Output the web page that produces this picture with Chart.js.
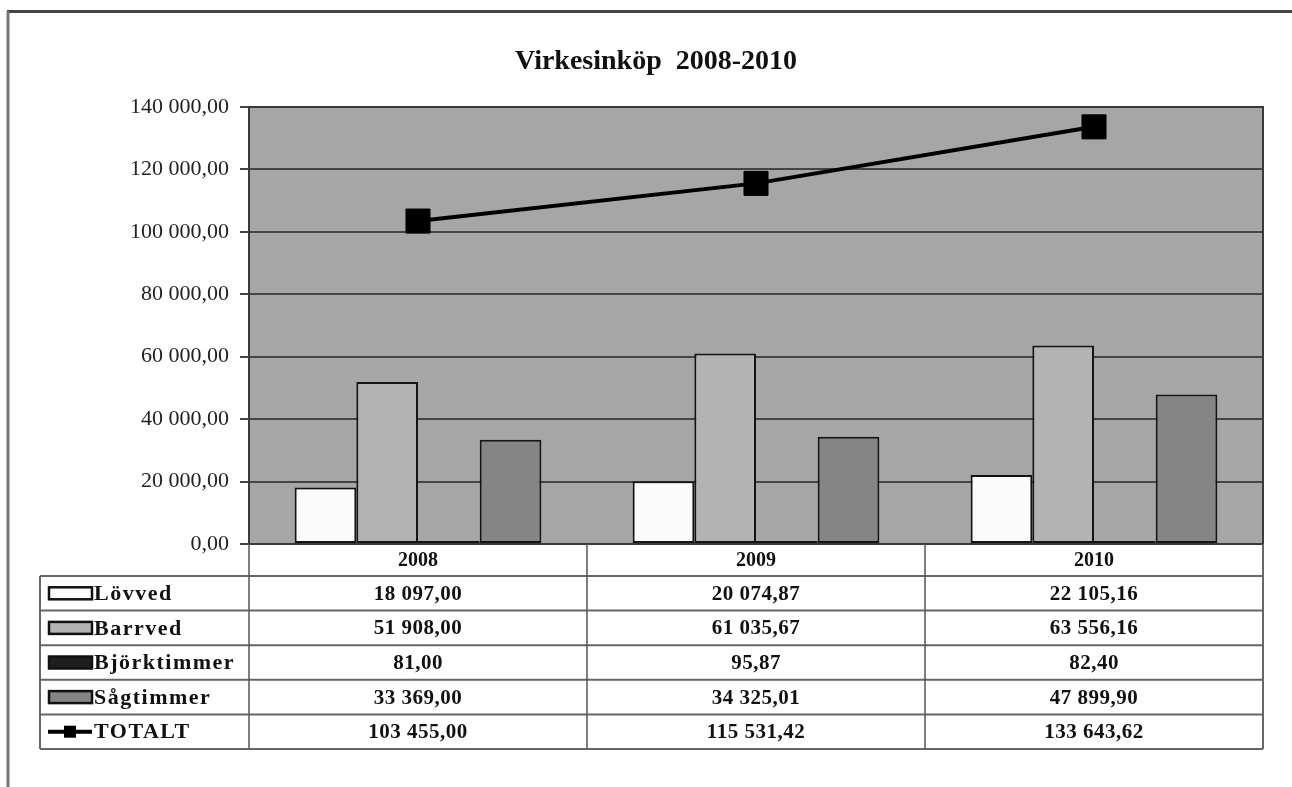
<!DOCTYPE html>
<html>
<head>
<meta charset="utf-8">
<script src="https://cdn.jsdelivr.net/npm/chart.js@4/dist/chart.umd.min.js"></script>
<style>
    html, body { margin: 0; padding: 0; background: #fff; }
    #wrap { width: 1292px; height: 787px; }
</style>
</head>
<body>
<div id="wrap"><canvas id="chart-virkesinkop"></canvas></div>
<script>
const years = ['2008', '2009', '2010'];
const lovved = [18097.00, 20074.87, 22105.16];
const barrved = [51908.00, 61035.67, 63556.16];
const bjorktimmer = [81.00, 95.87, 82.40];
const sagtimmer = [33369.00, 34325.01, 47899.90];
const totalt = [103455.00, 115531.42, 133643.62];

const chartTitle = 'Virkesinköp  2008-2010';
const seriesNames = ['Lövved', 'Barrved', 'Björktimmer', 'Sågtimmer', 'TOTALT'];
const seriesColors = ['#fbfbfb', '#b3b3b3', '#1e1e1e', '#858585', '#000000'];

const serif = '"Liberation Serif", "Times New Roman", serif';

function formatSv(value) {
    let parts = value.toFixed(2).split('.');
    parts[0] = parts[0].replace(/\B(?=(\d{3})+(?!\d))/g, ' ');
    return parts[0] + ',' + parts[1];
}

// grey plot background, title and the outer frame
const plotBackground = {
    id: 'plotBackground',
    beforeDraw(chart) {
        let ctx = chart.ctx;
        let a = chart.chartArea;
        ctx.save();
        ctx.fillStyle = '#a6a6a6';
        ctx.fillRect(a.left, a.top, a.right - a.left, a.bottom - a.top);

        ctx.strokeStyle = '#444';
        ctx.lineWidth = 3;
        ctx.beginPath();
        ctx.moveTo(7, 11.5);
        ctx.lineTo(1292, 11.5);
        ctx.stroke();
        ctx.strokeStyle = '#777';
        ctx.beginPath();
        ctx.moveTo(8, 11);
        ctx.lineTo(8, 787);
        ctx.stroke();

        ctx.fillStyle = '#111';
        ctx.font = 'bold 28px ' + serif;
        ctx.textAlign = 'center';
        ctx.textBaseline = 'middle';
        ctx.fillText(chartTitle, 656, 62);
        ctx.restore();
    },
};

// data table under the plot, legend keys included
const dataTable = {
    id: 'dataTable',
    afterDraw(chart) {
        let ctx = chart.ctx;
        let a = chart.chartArea;
        let x = chart.scales.x;
        let tableLeft = 40;
        let headerBottom = a.bottom + 32;
        let tableBottom = 749;
        let rowH = (tableBottom - headerBottom) / seriesNames.length;
        let colW = (a.right - a.left) / years.length;
        let rows = [lovved, barrved, bjorktimmer, sagtimmer, totalt];

        ctx.save();

        // plot frame
        ctx.strokeStyle = '#3a3a3a';
        ctx.lineWidth = 2;
        ctx.strokeRect(a.left, a.top, a.right - a.left, a.bottom - a.top);

        // table lines
        ctx.strokeStyle = '#666';
        ctx.lineWidth = 2;
        ctx.beginPath();
        for (let i = 0; i <= seriesNames.length; i++) {
            let y = headerBottom + i * rowH;
            ctx.moveTo(tableLeft, y);
            ctx.lineTo(a.right, y);
        }
        ctx.moveTo(tableLeft, headerBottom);
        ctx.lineTo(tableLeft, tableBottom);
        ctx.moveTo(a.right, a.bottom);
        ctx.lineTo(a.right, tableBottom);
        ctx.stroke();

        ctx.strokeStyle = '#555';
        ctx.lineWidth = 1.5;
        ctx.beginPath();
        for (let j = 0; j < years.length; j++) {
            let cx = a.left + j * colW;
            ctx.moveTo(cx, a.bottom);
            ctx.lineTo(cx, tableBottom);
        }
        ctx.stroke();

        ctx.fillStyle = '#111';
        ctx.textAlign = 'center';
        ctx.textBaseline = 'middle';
        ctx.font = 'bold 20px ' + serif;
        years.forEach((year, j) => {
            ctx.fillText(year, x.getPixelForValue(j), a.bottom + 17);
        });

        ctx.font = 'bold 21px ' + serif;
        ctx.letterSpacing = '0.5px';
        rows.forEach((values, i) => {
            let cy = headerBottom + i * rowH + rowH / 2;
            values.forEach((v, j) => {
                ctx.fillText(formatSv(v), x.getPixelForValue(j), cy + 1);
            });
        });

        // legend keys and names
        ctx.textAlign = 'left';
        ctx.font = 'bold 22px ' + serif;
        ctx.letterSpacing = '1.5px';
        seriesNames.forEach((name, i) => {
            let cy = headerBottom + i * rowH + rowH / 2;
            if (name === 'TOTALT') {
                ctx.strokeStyle = '#000';
                ctx.lineWidth = 4;
                ctx.beginPath();
                ctx.moveTo(48, cy);
                ctx.lineTo(92, cy);
                ctx.stroke();
                ctx.fillStyle = '#000';
                ctx.fillRect(64, cy - 6, 12, 12);
            } else {
                ctx.fillStyle = seriesColors[i];
                ctx.fillRect(49, cy - 6, 43, 12);
                ctx.strokeStyle = '#111';
                ctx.lineWidth = 2.5;
                ctx.strokeRect(49, cy - 6, 43, 12);
            }
            ctx.fillStyle = '#111';
            ctx.fillText(name, 94, cy + 1);
        });

        ctx.restore();
    },
};

function barDataset(index, values) {
    return {
        type: 'bar',
        label: seriesNames[index],
        data: values,
        backgroundColor: seriesColors[index],
        borderColor: '#141414',
        borderWidth: 2,
        borderSkipped: false,
        barPercentage: 1,
        categoryPercentage: 0.73,
        minBarLength: 3,
        order: 1,
    };
}

new Chart(document.getElementById('chart-virkesinkop'), {
    data: {
        labels: years,
        datasets: [
            barDataset(0, lovved),
            barDataset(1, barrved),
            barDataset(2, bjorktimmer),
            barDataset(3, sagtimmer),
            {
                type: 'line',
                label: seriesNames[4],
                data: totalt,
                borderColor: '#000',
                borderWidth: 4,
                pointStyle: 'rect',
                pointRadius: 17,
                pointBackgroundColor: '#000',
                pointBorderColor: '#000',
                pointBorderWidth: 1,
                tension: 0,
                order: 0,
            },
        ],
    },
    options: {
        responsive: true,
        maintainAspectRatio: false,
        animation: false,
        layout: {
            padding: { left: 0, top: 107, right: 29, bottom: 243 },
        },
        plugins: {
            legend: { display: false },
            tooltip: { enabled: false },
            title: { display: false },
        },
        scales: {
            x: {
                display: false,
            },
            y: {
                min: 0,
                max: 140000,
                afterFit(scale) {
                    scale.width = 249;
                },
                ticks: {
                    stepSize: 20000,
                    padding: 11,
                    color: '#222',
                    font: { family: serif, size: 22 },
                    callback: (value) => formatSv(value),
                },
                grid: {
                    color: '#444',
                    lineWidth: 2,
                    tickLength: 9,
                    tickColor: '#444',
                },
                border: {
                    color: '#333',
                    width: 2,
                },
            },
        },
    },
    plugins: [plotBackground, dataTable],
});
</script>
</body>
</html>
